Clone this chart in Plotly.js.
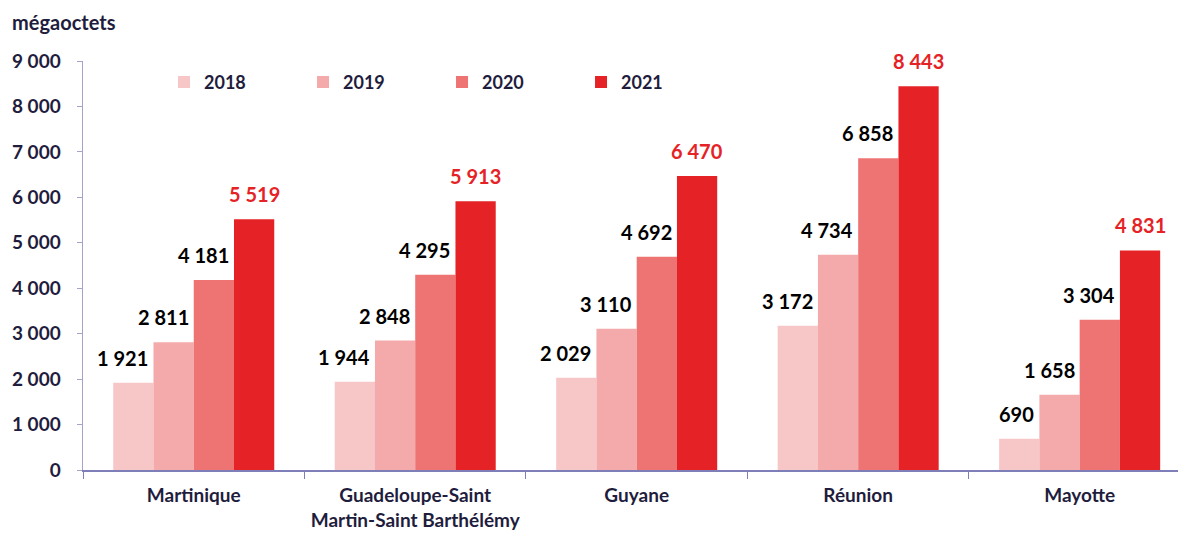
<!DOCTYPE html>
<html>
<head>
<meta charset="utf-8">
<script src="https://cdn.plot.ly/plotly-3.0.1.min.js"></script>
<style>html,body{margin:0;padding:0;background:#fff;}#chart{width:1178px;height:534px;}</style>
</head>
<body>
<div id="chart"></div>
<script>
const categories = ["Martinique", "Guadeloupe-Saint<br>Martin-Saint Barthélémy", "Guyane", "Réunion", "Mayotte"];
const years = ["2018", "2019", "2020", "2021"];
const v2018 = [1921, 1944, 2029, 3172, 690];
const v2019 = [2811, 2848, 3110, 4734, 1658];
const v2020 = [4181, 4295, 4692, 6858, 3304];
const v2021 = [5519, 5913, 6470, 8443, 4831];
const tickVals = [0, 1000, 2000, 3000, 4000, 5000, 6000, 7000, 8000, 9000];
const tickText = ["0", "1 000", "2 000", "3 000", "4 000", "5 000", "6 000", "7 000", "8 000", "9 000"];
const yUnit = "mégaoctets";

const series = [v2018, v2019, v2020, v2021];
const colors = ["#F7C6C7", "#F4AAAB", "#EE7373", "#E52326"];
const FONT = "Lato, 'Open Sans', sans-serif";
const NAVY = "#1F1D3D";

function fmt(v) { return String(v).replace(/\B(?=(\d{3})+(?!\d))/g, " "); }

const traces = series.map((vals, i) => ({
  type: "bar",
  name: years[i],
  x: categories,
  y: vals,
  marker: { color: colors[i], line: { width: 0 } },
  hoverinfo: "none"
}));

const annotations = [];
const barPx = 40.25;
series.forEach((vals, i) => {
  vals.forEach((v, j) => {
    const last = i === series.length - 1;
    annotations.push({
      x: categories[j], y: v, xref: "x", yref: "y",
      text: fmt(v), showarrow: false,
      xanchor: last ? "center" : "right",
      yanchor: "middle",
      xshift: last ? (i - 1.5) * barPx : (i - 1) * barPx - 3,
      yshift: 25,
      font: { family: FONT, size: 20, color: last ? "#E52326" : "#000000", weight: "bold" }
    });
  });
});
annotations.push({
  xref: "paper", yref: "paper", x: -0.0667, y: 1.095, xanchor: "left", yanchor: "middle",
  text: yUnit, showarrow: false,
  font: { family: FONT, size: 20, color: NAVY, weight: "bold" }
});

const layout = {
  width: 1178, height: 534,
  margin: { l: 83, r: 0, t: 61, b: 64 },
  paper_bgcolor: "#ffffff", plot_bgcolor: "#ffffff",
  barmode: "group", bargap: 0.273, bargroupgap: 0,
  showlegend: true,
  legend: {
    orientation: "h", x: 0.074, y: 0.948, xanchor: "left", yanchor: "middle",
    entrywidth: 94, entrywidthmode: "pixels",
    font: { family: FONT, size: 18, color: NAVY, weight: "bold" },
    itemwidth: 30, tracegroupgap: 0, bgcolor: "rgba(0,0,0,0)"
  },
  xaxis: {
    type: "category", range: [-0.5, 4.444],
    showgrid: false, zeroline: false,
    showline: true, linecolor: "#7E7EB8", linewidth: 1.5,
    ticks: "outside", tickson: "boundaries", ticklen: 7, tickcolor: "#7E7EB8",
    ticklabelstandoff: 8,
    tickfont: { family: FONT, size: 19, color: NAVY, weight: "bold" },
    fixedrange: true
  },
  yaxis: {
    range: [0, 9000], tickvals: tickVals, ticktext: tickText,
    showgrid: false, zeroline: false,
    showline: true, linecolor: "#A3A3CC", linewidth: 1.5,
    ticks: "outside", ticklen: 5, tickcolor: "#A3A3CC",
    ticklabelstandoff: 12,
    tickfont: { family: FONT, size: 19, color: NAVY, weight: "bold" },
    fixedrange: true
  },
  annotations: annotations
};

Plotly.newPlot("chart", traces, layout, { displayModeBar: false, staticPlot: true });
</script>
</body>
</html>
